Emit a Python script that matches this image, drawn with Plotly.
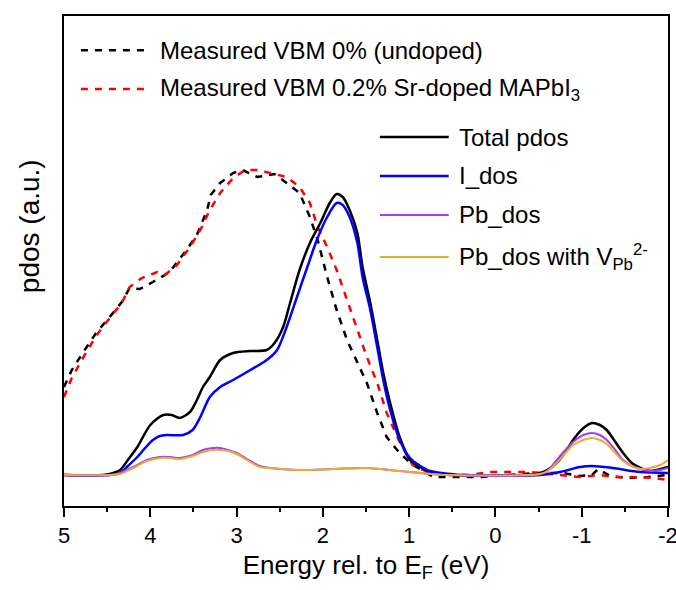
import plotly.graph_objects as go

# ---------------------------------------------------------------------------
# Data: energy relative to the Fermi level (eV) and projected DOS (arb. units)
# ---------------------------------------------------------------------------

# Measured valence-band spectra
e_meas_undoped = [5.00, 4.91, 4.76, 4.62, 4.47, 4.33, 4.24, 4.12, 3.97, 3.83,
                  3.74, 3.58, 3.46, 3.34, 3.30, 3.19, 3.04, 2.93, 2.76, 2.56,
                  2.42, 2.27, 2.15, 2.06, 1.95, 1.84, 1.72, 1.60, 1.49, 1.37,
                  1.26, 1.14, 0.99, 0.72, 0.45, 0.18, -0.13, -0.48, -0.78, -0.98,
                  -1.12, -1.19, -1.33, -1.53, -1.76, -2.00]
dos_meas_undoped = [0.88, 1.05, 1.25, 1.43, 1.58, 1.73, 1.87, 1.86, 1.93, 2.00,
                    2.07, 2.25, 2.40, 2.65, 2.80, 2.92, 3.02, 3.05, 2.98, 3.01,
                    2.92, 2.82, 2.58, 2.35, 1.98, 1.65, 1.35, 1.12, 0.92, 0.62,
                    0.38, 0.25, 0.12, -0.02, -0.02, -0.02, 0.00, 0.02, 0.02, -0.01,
                    0.00, 0.06, -0.01, -0.03, -0.02, 0.00]

e_meas_sr = [5.00, 4.91, 4.76, 4.62, 4.47, 4.33, 4.24, 4.10, 3.92, 3.83,
             3.69, 3.54, 3.42, 3.31, 3.19, 3.04, 2.90, 2.76, 2.61, 2.42,
             2.27, 2.15, 2.06, 1.95, 1.84, 1.72, 1.60, 1.49, 1.37, 1.26,
             1.11, 0.96, 0.76, 0.56, 0.30, 0.06, -0.09, -0.40, -0.75, -0.98,
             -1.21, -1.36, -1.59, -1.83, -2.00]
dos_meas_sr = [0.78, 0.97, 1.20, 1.40, 1.57, 1.72, 1.88, 1.97, 2.03, 2.00,
               2.10, 2.28, 2.45, 2.65, 2.82, 2.97, 3.05, 3.05, 3.02, 2.98,
               2.88, 2.72, 2.48, 2.28, 2.05, 1.75, 1.45, 1.18, 0.92, 0.62,
               0.33, 0.10, 0.02, 0.01, 0.00, 0.03, 0.03, 0.03, 0.00, -0.02,
               0.00, -0.02, -0.02, -0.03, -0.05]

# Calculated projected DOS
e_total = [5.00, 4.55, 4.47, 4.35, 4.26, 4.15, 4.00, 3.85, 3.75, 3.66,
           3.54, 3.46, 3.39, 3.31, 3.19, 3.04, 2.84, 2.65, 2.56, 2.46,
           2.38, 2.27, 2.15, 2.03, 1.92, 1.84, 1.77, 1.69, 1.60, 1.54,
           1.45, 1.37, 1.30, 1.22, 1.11, 0.99, 0.87, 0.76, 0.53, -0.48,
           -0.60, -0.71, -0.81, -0.90, -1.02, -1.12, -1.21, -1.29, -1.39, -1.48,
           -1.58, -1.68, -1.79, -1.87, -2.00]
dos_total = [0.00, 0.00, 0.01, 0.05, 0.15, 0.28, 0.50, 0.60, 0.60, 0.57,
             0.63, 0.75, 0.88, 0.98, 1.15, 1.22, 1.24, 1.25, 1.32, 1.48,
             1.72, 2.05, 2.32, 2.52, 2.72, 2.81, 2.78, 2.65, 2.42, 2.08,
             1.72, 1.35, 1.02, 0.72, 0.38, 0.15, 0.08, 0.03, 0.00, 0.01,
             0.05, 0.12, 0.23, 0.35, 0.47, 0.52, 0.50, 0.45, 0.33, 0.22,
             0.12, 0.07, 0.04, 0.05, 0.08]

e_iodine = [5.00, 4.47, 4.35, 4.26, 4.15, 4.06, 3.97, 3.89, 3.81, 3.62,
            3.51, 3.42, 3.31, 3.19, 3.04, 2.84, 2.65, 2.53, 2.42, 2.30,
            2.18, 2.07, 1.95, 1.84, 1.77, 1.69, 1.60, 1.54, 1.45, 1.37,
            1.30, 1.22, 1.11, 0.99, 0.87, 0.76, 0.53, 0.38, -0.52, -0.75,
            -0.98, -1.12, -1.36, -1.68, -2.00]
dos_iodine = [0.00, 0.00, 0.02, 0.09, 0.18, 0.27, 0.35, 0.39, 0.40, 0.40,
              0.45, 0.58, 0.78, 0.88, 0.95, 1.05, 1.15, 1.25, 1.48, 1.78,
              2.08, 2.35, 2.58, 2.72, 2.70, 2.58, 2.32, 1.98, 1.65, 1.28,
              0.95, 0.65, 0.35, 0.17, 0.09, 0.04, 0.01, 0.00, 0.00, 0.03,
              0.08, 0.09, 0.07, 0.03, 0.02]

e_lead = [5.00, 4.47, 4.35, 4.27, 4.15, 4.04, 3.89, 3.77, 3.66, 3.51,
          3.39, 3.27, 3.19, 3.10, 3.00, 2.88, 2.73, 2.61, 2.27, 1.88,
          1.49, 1.11, 0.87, 0.56, -0.52, -0.61, -0.71, -0.81, -0.90, -1.02,
          -1.12, -1.21, -1.29, -1.39, -1.48, -1.58, -1.68, -1.79, -1.91, -2.00]
dos_lead = [0.00, 0.00, 0.02, 0.05, 0.10, 0.15, 0.18, 0.18, 0.17, 0.20,
            0.25, 0.27, 0.27, 0.25, 0.22, 0.16, 0.09, 0.07, 0.05, 0.06,
            0.07, 0.04, 0.02, 0.00, 0.01, 0.05, 0.15, 0.25, 0.33, 0.40,
            0.42, 0.40, 0.35, 0.25, 0.15, 0.09, 0.06, 0.04, 0.05, 0.07]
dos_lead_vac = [0.00, 0.00, 0.01, 0.04, 0.09, 0.14, 0.17, 0.17, 0.16, 0.19,
                0.23, 0.25, 0.25, 0.24, 0.21, 0.15, 0.08, 0.07, 0.05, 0.06,
                0.07, 0.04, 0.02, 0.00, 0.01, 0.04, 0.12, 0.22, 0.30, 0.35,
                0.37, 0.35, 0.31, 0.22, 0.14, 0.09, 0.06, 0.07, 0.10, 0.15]

# Axis ticks
x_major = [5, 4, 3, 2, 1, 0, -1, -2]
x_minor = [4.5, 3.5, 2.5, 1.5, 0.5, -0.5, -1.5]

# ---------------------------------------------------------------------------
# Styling
# ---------------------------------------------------------------------------
FONT = "Liberation Sans, Arial, sans-serif"
DASH = "7px,7px"

series = [
    dict(name="Measured VBM 0% (undoped)", x=e_meas_undoped, y=dos_meas_undoped,
         color="#000000", width=2.5, dash=DASH, shape="linear", group=1),
    dict(name="Measured VBM 0.2% Sr-doped MAPbI<sub>3</sub>", x=e_meas_sr, y=dos_meas_sr,
         color="#FF0000", width=2.5, dash=DASH, shape="linear", group=1),
    dict(name="Total pdos", x=e_total, y=dos_total,
         color="#000000", width=2.5, dash="solid", shape="spline", group=2),
    dict(name="I_dos", x=e_iodine, y=dos_iodine,
         color="#0000FF", width=2.5, dash="solid", shape="spline", group=2),
    dict(name="Pb_dos", x=e_lead, y=dos_lead,
         color="#A040F0", width=2, dash="solid", shape="spline", group=2),
    dict(name="Pb_dos with V<sub>Pb</sub><sup>2-</sup>", x=e_lead, y=dos_lead_vac,
         color="#EBAA35", width=2, dash="solid", shape="spline", group=2),
]

fig = go.Figure()
for s in series:
    fig.add_trace(go.Scatter(
        x=s["x"], y=s["y"], mode="lines", name=s["name"], showlegend=False,
        line=dict(color=s["color"], width=s["width"], dash=s["dash"],
                  shape=s["shape"], smoothing=0.8),
    ))

# Hand-built legend blocks (long sample lines, two separate groups)
legend_layout = {
    1: dict(x0=0.028, x1=0.142, xt=0.156, rows=[0.930, 0.851]),
    2: dict(x0=0.523, x1=0.637, xt=0.651, rows=[0.753, 0.6735, 0.594, 0.508]),
}
shapes, annotations = [], []
counters = {1: 0, 2: 0}
for s in series:
    g = legend_layout[s["group"]]
    yy = g["rows"][counters[s["group"]]]
    counters[s["group"]] += 1
    shapes.append(dict(type="line", xref="paper", yref="paper",
                       x0=g["x0"], x1=g["x1"], y0=yy, y1=yy,
                       line=dict(color=s["color"], width=s["width"], dash=s["dash"])))
    annotations.append(dict(text=s["name"], xref="paper", yref="paper",
                            x=g["xt"], y=yy, xanchor="left", yanchor="middle",
                            showarrow=False,
                            font=dict(family=FONT, size=24, color="#000000")))

# y-axis title
annotations.append(dict(text="pdos (a.u.)", xref="paper", yref="paper",
                        x=-0.058, y=0.571, xanchor="center", yanchor="middle",
                        textangle=-90, showarrow=False,
                        font=dict(family=FONT, size=28, color="#000000")))

fig.update_layout(
    width=676, height=590,
    margin=dict(l=64, r=8, t=16, b=84),
    paper_bgcolor="white", plot_bgcolor="white",
    shapes=shapes, annotations=annotations,
    showlegend=False,
)

fig.update_xaxes(
    range=[5, -2], tickmode="array", tickvals=x_major,
    ticktext=[str(v) for v in x_major],
    ticks="outside", ticklen=9, tickwidth=2, tickcolor="#000000",
    ticklabeloverflow="allow", automargin=False,
    minor=dict(tickmode="array", tickvals=x_minor, ticks="outside",
               ticklen=4, tickwidth=2, tickcolor="#000000"),
    showline=True, linewidth=2, linecolor="#000000", mirror=True,
    showgrid=False, zeroline=False,
    tickfont=dict(family=FONT, size=22, color="#000000"),
    title=dict(text="Energy rel. to E<sub>F</sub> (eV)", standoff=8,
               font=dict(family=FONT, size=26, color="#000000")),
)
fig.update_yaxes(
    range=[-0.31, 4.59], showticklabels=False, ticks="", automargin=False,
    showline=True, linewidth=2, linecolor="#000000", mirror=True,
    showgrid=False, zeroline=False,
)

fig.write_html("out.html")
